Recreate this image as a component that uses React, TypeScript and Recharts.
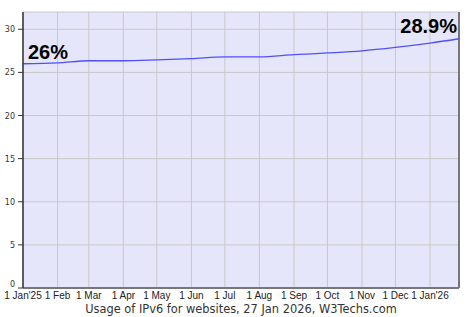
import { CartesianGrid, Line, LineChart, ReferenceLine, XAxis, YAxis } from "recharts";

// IPv6 usage share (%)
const dates = [
  "2025-01-01", "2025-02-01", "2025-03-01", "2025-04-01", "2025-05-01",
  "2025-06-01", "2025-07-01", "2025-08-01", "2025-09-01", "2025-10-01",
  "2025-11-01", "2025-12-01", "2026-01-01", "2026-01-27",
];
const ipv6Share = [
  26.0, 26.1, 26.35, 26.35, 26.45, 26.6, 26.8, 26.8, 27.05, 27.25, 27.5, 27.9, 28.4, 28.9,
];

const tickDates = [
  "2025-01-01", "2025-02-01", "2025-03-01", "2025-04-01", "2025-05-01",
  "2025-06-01", "2025-07-01", "2025-08-01", "2025-09-01", "2025-10-01",
  "2025-11-01", "2025-12-01", "2026-01-01",
];
const tickLabels = [
  "1 Jan'25", "1 Feb", "1 Mar", "1 Apr", "1 May", "1 Jun", "1 Jul",
  "1 Aug", "1 Sep", "1 Oct", "1 Nov", "1 Dec", "1 Jan'26",
];
const yTicks = [0, 5, 10, 15, 20, 25, 30];
const caption = "Usage of IPv6 for websites, 27 Jan 2026, W3Techs.com";

const data = dates.map((d, i) => ({ t: Date.parse(d), v: ipv6Share[i] }));
const tickTs = tickDates.map((d) => Date.parse(d));
const firstT = data[0].t;
const lastT = data[data.length - 1].t;

function EndLabel(props: any) {
  const { x, y, index, value } = props;
  if (index === 0) {
    return (
      <text x={x + 5} y={y - 5} fontSize={20} fontWeight="bold" fontFamily="Liberation Sans, Arial, sans-serif" fill="#000">
        {Math.round(value)}%
      </text>
    );
  }
  if (index === data.length - 1) {
    return (
      <text x={x - 2} y={y - 6} textAnchor="end" fontSize={20} fontWeight="bold" fontFamily="Liberation Sans, Arial, sans-serif" fill="#000">
        {value}%
      </text>
    );
  }
  return null;
}

function YTick(props: any) {
  const { x, y, payload } = props;
  // the 0 label sits a little above its tick so it clears the first date label
  const dy = payload.value === 0 ? -1 : 3;
  return (
    <text x={x} y={y + dy} textAnchor="end" fontSize={8} fill="#333" fontFamily="DejaVu Sans, Verdana, sans-serif">
      {payload.value}
    </text>
  );
}

export default function App() {
  return (
    <div style={{ position: "absolute", left: 0, top: 0, width: 475, height: 317, background: "#fff" }}>
      <LineChart width={475} height={317} data={data} margin={{ top: 12, right: 16, bottom: 0, left: 0 }}>
        <CartesianGrid fill="#e6e6fa" stroke="#c8c8c8" />
        <XAxis
          type="number"
          dataKey="t"
          domain={[firstT, lastT]}
          ticks={tickTs}
          tickFormatter={(t: number) => tickLabels[tickTs.indexOf(t)] ?? ""}
          height={29}
          tickLine={false}
          tickSize={0}
          tickMargin={4}
          axisLine={{ stroke: "#777", strokeWidth: 2 }}
          tick={{ fontSize: 10, fill: "#222", fontFamily: "Liberation Sans Narrow, Arial Narrow, sans-serif" }}
          interval={0}
          label={{
            value: caption,
            position: "insideBottom",
            offset: 4,
            style: { fontSize: 11.4, fill: "#333", fontFamily: "DejaVu Sans, Verdana, sans-serif" },
          }}
        />
        <YAxis
          domain={[0, 32]}
          ticks={yTicks}
          width={23}
          tickSize={5}
          tickMargin={3}
          interval={0}
          axisLine={{ stroke: "#333", strokeWidth: 1.5 }}
          tickLine={{ stroke: "#333" }}
          tick={<YTick />}
        />
        <ReferenceLine x={lastT} stroke="#555" strokeWidth={1.5} />
        <Line
          type="monotone"
          dataKey="v"
          stroke="#4f4fff"
          strokeWidth={1.3}
          dot={false}
          label={<EndLabel />}
          isAnimationActive={false}
        />
      </LineChart>
    </div>
  );
}
